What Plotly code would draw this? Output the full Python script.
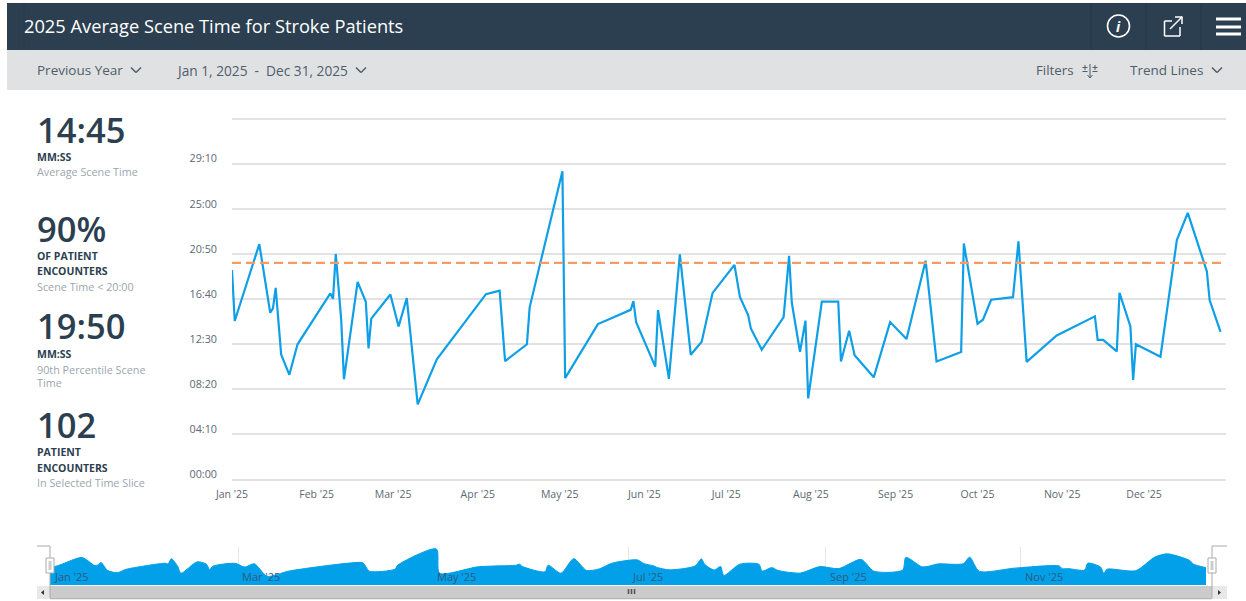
import pandas as pd
import plotly.graph_objects as go

W, H = 1246, 601

TITLE = "2025 Average Scene Time for Stroke Patients"
day_of_year = [0,1,10,14,15,16,18,21,24,36,37,38,40,41,46,49,50,51,58,61,64,68,75,93,98,100,108,109,
               121,122,134,146,147,148,155,156,160,164,168,172,176,184,186,189,190,194,202,204,205,208,210,211,
               216,222,223,226,228,235,241,247,254,258,267,268,273,275,278,286,288,291,302,316,317,319,324,325,
               329,330,331,340,346,350,357,358,362]
scene_seconds = [1160,878,1304,924,948,1062,693,580,749,1031,1001,1249,883,555,1095,985,726,891,1025,848,1005,416,666,1027,1046,656,749,954,
                 1708,562,861,940,988,872,625,939,558,1247,691,763,1034,1189,1012,911,837,719,900,1239,979,708,880,449,
                 985,985,654,824,688,566,872,778,1212,654,706,1308,863,885,996,1010,1319,652,798,904,774,774,710,1034,
                 848,551,749,680,1326,1477,1153,994,818]
target_seconds = 1200
y_ticks = [0,250,500,750,1000,1250,1500,1750,2000]
y_labels = ["00:00","04:10","08:20","12:30","16:40","20:50","25:00","29:10",""]
month_starts = ["2025-01-01","2025-02-01","2025-03-01","2025-04-01","2025-05-01","2025-06-01",
                "2025-07-01","2025-08-01","2025-09-01","2025-10-01","2025-11-01","2025-12-01"]
month_labels = ["Jan '25","Feb '25","Mar '25","Apr '25","May '25","Jun '25",
                "Jul '25","Aug '25","Sep '25","Oct '25","Nov '25","Dec '25"]
nav_months = ["2025-01-01","2025-03-01","2025-05-01","2025-07-01","2025-09-01","2025-11-01"]
nav_labels = ["Jan '25","Mar '25","May '25","Jul '25","Sep '25","Nov '25"]

dates = [pd.Timestamp("2025-01-01") + pd.Timedelta(days=d) for d in day_of_year]

DARK = "#2C3F50"
TXT = "#505E6A"
TICK = "#5C6873"
SUB = "#9BA6AE"
FONT = "Open Sans"
BLUE = "#0F9FE6"

px = lambda x: x / W
py = lambda y: 1 - y / H

fig = go.Figure()
fig.add_trace(go.Scatter(x=dates, y=scene_seconds, mode="lines", xaxis="x", yaxis="y",
                         line=dict(color=BLUE, width=2.2), hoverinfo="skip"))
fig.add_trace(go.Scatter(x=["2025-01-01", "2025-12-31"], y=[target_seconds]*2, mode="lines", xaxis="x", yaxis="y",
                         line=dict(color="#F89A63", width=2.2, dash="9px 5px"), hoverinfo="skip"))
fig.add_trace(go.Scatter(x=dates, y=scene_seconds, mode="lines", xaxis="x2", yaxis="y2", fill="tozeroy",
                         fillcolor="#02A0E8", line=dict(color="#02A0E8", width=1, shape="spline", smoothing=0.7),
                         hoverinfo="skip"))

shapes = []
def rect(x0, y0, x1, y1, fill, line=None, lw=0, layer="below"):
    shapes.append(dict(type="rect", xref="paper", yref="paper", x0=px(x0), x1=px(x1), y0=py(y0), y1=py(y1),
                       fillcolor=fill, line=dict(color=line or fill, width=lw), layer=layer))
def seg(x0, y0, x1, y1, color, lw=1.5):
    shapes.append(dict(type="line", xref="paper", yref="paper", x0=px(x0), x1=px(x1), y0=py(y0), y1=py(y1),
                       line=dict(color=color, width=lw), layer="above"))
def chevron(cx, cy, color=TXT):
    seg(cx-5, cy-2.5, cx, cy+2.5, color); seg(cx, cy+2.5, cx+5, cy-2.5, color)
def tri(points, color):
    path = "M" + " L".join(f"{px(a)},{py(b)}" for a, b in points) + " Z"
    shapes.append(dict(type="path", xref="paper", yref="paper", path=path, fillcolor=color,
                       line=dict(width=0), layer="above"))

# header and toolbar bands
rect(7, 3, 1246, 50, DARK)
rect(7, 50, 1246, 90, "#DFE1E3")
for x in (1091, 1146, 1201):
    seg(x, 3, x, 50, "#263846", 1)
seg(24, 3, 24, 50, "#283A49", 1)
# info icon
shapes.append(dict(type="circle", xref="paper", yref="paper", x0=px(1107.5), x1=px(1129.5), y0=py(37), y1=py(15),
                   line=dict(color="white", width=1.6), layer="above"))
# external-link icon
for a in [(1164.5,21,1164.5,36),(1164.5,36,1180,36),(1180,36,1180,27),(1164.5,21,1172,21),(1170,29,1182,17),(1175,17,1182.5,17),(1182,17,1182,24)]:
    seg(*a, "white", 1.5)
# menu icon
for y in (19, 27, 34):
    seg(1216, y, 1241, y, "white", 3)
chevron(136, 70); chevron(361, 70); chevron(1217, 70)
# filter icon
seg(1090, 64, 1090, 78, TXT, 1); seg(1087.5, 75, 1090, 78, TXT, 1); seg(1092.5, 75, 1090, 78, TXT, 1)
for xc in (1085, 1095):
    seg(xc, 65, xc, 70, TXT, 1); seg(xc-2.5, 67.5, xc+2.5, 67.5, TXT, 1); seg(xc-2.5, 71.5, xc+2.5, 71.5, TXT, 1)

# navigator chrome
rect(50, 586, 1212, 599, "#CBCBCB", layer="above")
rect(37, 586, 50, 599, "#E8E8E8", layer="above")
rect(1212, 586, 1227, 599, "#E8E8E8", layer="above")
seg(50, 598.7, 1212, 598.7, "#B5B5B5", 1.2)
for x in (628.5, 631.5, 634.5):
    seg(x, 589, x, 594, "#555555", 1.6)
tri([(44, 590), (44, 595), (41, 592.5)], "#333333")
tri([(1218, 590), (1218, 595), (1221, 592.5)], "#333333")
seg(37, 546, 50, 546, "#AAAAAA", 1); seg(50, 546, 50, 598, "#AAAAAA", 1)
seg(1212, 546, 1227, 546, "#AAAAAA", 1); seg(1212, 546, 1212, 598, "#AAAAAA", 1)
for x0 in (46, 1208):
    rect(x0, 558, x0+8, 573, "#FFFFFF", "#AAAAAA", 1, "above")
    rect(x0+2.5, 561, x0+5.5, 570, "#CCCCCC", layer="above")

ann = []
def text(x, y, s, size=11, color=TXT, anchor="left", weight=None):
    f = dict(family=FONT, size=size, color=color)
    if weight:
        f["weight"] = weight
    ann.append(dict(x=px(x), y=py(y), xref="paper", yref="paper", text=s, showarrow=False, xanchor=anchor,
                    yanchor="middle", borderpad=0, font=f))

text(23, 26, TITLE, 18.25, "#FFFFFF")
text(1118.5, 26.5, "<i><b>i</b></i>", 14, "#FFFFFF", "center")
text(36, 70, "Previous Year", 13.5)
text(175, 70, "Jan 1, 2025&nbsp;&nbsp;-&nbsp;&nbsp;Dec 31, 2025", 13.7)
text(1035, 70, "Filters", 13.3)
text(1129, 70, "Trend Lines", 13.5)

BIG = 34.5
SMALL = 10.8
text(36, 129.5, "14:45", BIG, DARK, weight=600)
text(36, 157, "<b>MM:SS</b>", 10.5, DARK)
text(36, 172, "Average Scene Time", SMALL, SUB)
text(36, 228, "90%", BIG, DARK, weight=600)
text(36, 256, "<b>OF PATIENT</b>", 10.5, DARK)
text(36, 271, "<b>ENCOUNTERS</b>", 10.5, DARK)
text(36, 286, "Scene Time &lt; 20:00", SMALL, SUB)
text(36, 325.5, "19:50", BIG, DARK, weight=600)
text(36, 354, "<b>MM:SS</b>", 10.5, DARK)
text(36, 369, "90th Percentile Scene", SMALL, SUB)
text(36, 382, "Time", SMALL, SUB)
text(36, 424.5, "102", BIG, DARK, weight=600)
text(36, 452, "<b>PATIENT</b>", 10.5, DARK)
text(36, 468, "<b>ENCOUNTERS</b>", 10.5, DARK)
text(36, 483, "In Selected Time Slice", SMALL, SUB)

for m, lab in zip(nav_months, nav_labels):
    ann.append(dict(x=m, y=0, xref="x2", yref="y2", yshift=9, xshift=2, text=lab, showarrow=False, xanchor="left",
                    yanchor="middle", font=dict(family=FONT, size=11, color="#2F5A7E")))

fig.update_layout(
    width=W, height=H, autosize=False, margin=dict(l=0, r=0, t=0, b=0),
    paper_bgcolor="white", plot_bgcolor="rgba(0,0,0,0)", showlegend=False,
    shapes=shapes, annotations=ann,
    xaxis=dict(domain=[px(232), px(1226)], type="date", range=["2025-01-01", "2025-12-31"], anchor="y",
               tickmode="array", tickvals=month_starts, ticktext=month_labels, showgrid=False, zeroline=False,
               ticks="", automargin=False, ticklabelstandoff=5, tickfont=dict(family=FONT, size=10.5, color=TICK)),
    yaxis=dict(domain=[py(481.3), py(116.7)], range=[-10, 2010], anchor="x", tickmode="array",
               tickvals=y_ticks, ticktext=y_labels, showgrid=True, gridcolor="#E2E2E2", gridwidth=1.5,
               zeroline=False, showline=False, ticks="", ticklabelshift=-5, ticklabelstandoff=14,
               automargin=False, tickfont=dict(family=FONT, size=10.8, color=TICK)),
    xaxis2=dict(domain=[px(50), px(1206)], type="date", range=["2025-01-01", "2025-12-29"], anchor="y2",
                tickmode="array", tickvals=nav_months, showticklabels=False, showgrid=True, gridcolor="#E6E6E6",
                gridwidth=1, zeroline=False, ticks="", automargin=False),
    yaxis2=dict(domain=[py(585), py(547)], range=[0, 1800], anchor="x2", showticklabels=False, showgrid=False,
                zeroline=False, ticks="", automargin=False),
)
fig.write_html("out.html", config=dict(displayModeBar=False, responsive=False),
               post_script="document.body.style.margin='0';document.body.style.overflow='hidden';")
